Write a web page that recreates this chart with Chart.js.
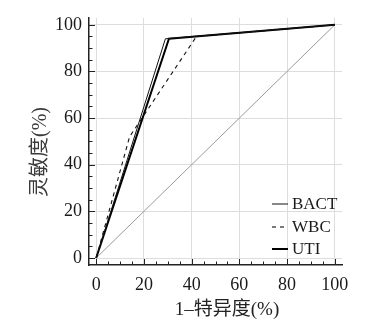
<!DOCTYPE html>
<html>
<head>
<meta charset="utf-8">
<script src="https://cdn.jsdelivr.net/npm/chart.js@4.4.1/dist/chart.umd.min.js"></script>
<style>
html,body{margin:0;padding:0;background:#fff;}
canvas{display:block;}
</style>
</head>
<body>
<canvas id="c" width="379" height="325"></canvas>
<script>
// ---- data ----
const tickValues = [0, 20, 40, 60, 80, 100];
const seriesNames = ['BACT', 'WBC', 'UTI'];
const bactX = [0, 29, 100];
const bactY = [0, 94, 100];
const wbcX = [0, 14, 42, 100];
const wbcY = [0, 52, 95, 100];
const utiX = [0, 30.5, 100];
const utiY = [0, 94, 100];
const refX = [0, 100];
const refY = [0, 100];
const xTitle = '1\u2013特异度(%)';
const yTitle = '灵敏度(%)';

const pts = (xs, ys) => xs.map((x, i) => ({x: x, y: ys[i]}));
const serif = '"Liberation Serif", "Noto Sans CJK SC", serif';

const datasets = [
  {label: seriesNames[0], data: pts(bactX, bactY), borderColor: '#111', borderWidth: 1, showInLegend: true},
  {label: seriesNames[1], data: pts(wbcX, wbcY), borderColor: '#111', borderWidth: 1.1, borderDash: [4, 4], showInLegend: true},
  {label: seriesNames[2], data: pts(utiX, utiY), borderColor: '#000', borderWidth: 2, showInLegend: true},
  {label: 'ref', data: pts(refX, refY), borderColor: '#9a9a9a', borderWidth: 1, showInLegend: false}
].map(d => Object.assign({pointRadius: 0, tension: 0, fill: false}, d));

const axisDeco = {
  id: 'axisDeco',
  afterDraw(chart) {
    const ctx = chart.ctx, a = chart.chartArea;
    const xs = chart.scales.x, ys = chart.scales.y;
    ctx.save();
    ctx.strokeStyle = '#222';
    ctx.lineWidth = 1;
    // inward ticks (major every 20, minor every 5)
    for (let v = 0; v <= 100; v += 5) {
      const major = v % 20 === 0;
      const len = major ? 6 : 3.5;
      const px = Math.round(xs.getPixelForValue(v)) + 0.5;
      ctx.beginPath(); ctx.moveTo(px, a.bottom); ctx.lineTo(px, a.bottom - len); ctx.stroke();
      const py = Math.round(ys.getPixelForValue(v)) + 0.5;
      ctx.beginPath(); ctx.moveTo(a.left, py); ctx.lineTo(a.left + len, py); ctx.stroke();
    }
    // axis titles
    ctx.textAlign = 'center';
    ctx.textBaseline = 'middle';
    ctx.fillStyle = '#222';
    ctx.font = '19px ' + serif;
    ctx.fillText(xTitle, 227, 310);
    ctx.save();
    ctx.translate(41, 152);
    ctx.rotate(-Math.PI / 2);
    ctx.fillStyle = '#3a3a3a';
    ctx.font = '20px ' + serif;
    ctx.fillText(yTitle, 0, 0);
    ctx.restore();
    // legend
    ctx.font = '17px ' + serif;
    const rows = [204, 227, 249];
    chart.data.datasets.filter(d => d.showInLegend).forEach((d, i) => {
      const y = rows[i];
      ctx.beginPath();
      ctx.strokeStyle = d.borderColor;
      ctx.lineWidth = d.borderWidth;
      ctx.setLineDash(d.borderDash || []);
      ctx.moveTo(272, y); ctx.lineTo(288, y); ctx.stroke();
      ctx.setLineDash([]);
      ctx.fillStyle = '#1a1a1a';
      ctx.textAlign = 'left';
      ctx.fillText(d.label, 292, y + 1);
    });
    ctx.restore();
  }
};

new Chart(document.getElementById('c'), {
  type: 'line',
  data: {datasets: datasets},
  options: {
    responsive: false,
    animation: false,
    devicePixelRatio: 1,
    layout: {padding: {top: 12, right: 37, left: 0, bottom: 0}},
    plugins: {legend: {display: false}, tooltip: {enabled: false}},
    scales: {
      x: {
        type: 'linear', min: -3, max: 103,
        afterBuildTicks: s => { s.ticks = tickValues.map(v => ({value: v})); },
        afterFit: s => { s.height = 60; },
        grid: {color: '#dddddd', lineWidth: 1, drawTicks: false},
        border: {display: true, color: '#222', width: 1.5},
        ticks: {padding: 9, color: '#1a1a1a', font: {family: serif, size: 18}, maxRotation: 0}
      },
      y: {
        type: 'linear', min: -3, max: 103,
        afterBuildTicks: s => { s.ticks = tickValues.map(v => ({value: v})); },
        afterFit: s => { s.width = 89; },
        grid: {color: '#dddddd', lineWidth: 1, drawTicks: false},
        border: {display: true, color: '#222', width: 1.5},
        ticks: {padding: 7, color: '#1a1a1a', font: {family: serif, size: 18}}
      }
    }
  },
  plugins: [axisDeco]
});
</script>
</body>
</html>
